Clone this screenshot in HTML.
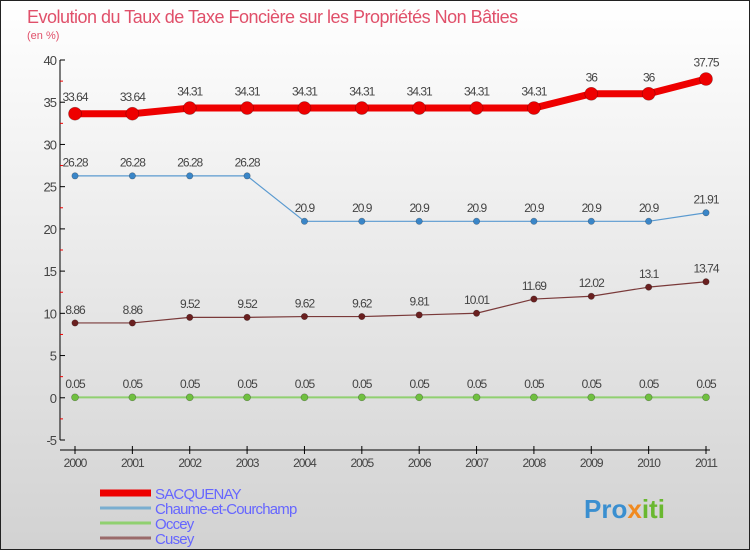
<!DOCTYPE html>
<html><head><meta charset="utf-8"><style>
html,body{margin:0;padding:0}
body{width:750px;height:550px;overflow:hidden;font-family:"Liberation Sans",sans-serif}
svg text{font-family:"Liberation Sans",sans-serif}
</style></head><body>
<svg id="chart" width="750" height="550" xmlns="http://www.w3.org/2000/svg">
<defs><linearGradient id="bg" x1="0" y1="0" x2="0" y2="1"><stop offset="0" stop-color="#ffffff"/><stop offset="1" stop-color="#d2d2d2"/></linearGradient></defs>
<rect x="0.5" y="0.5" width="749" height="549" fill="url(#bg)" stroke="#222" stroke-width="1"/>
<text x="27" y="23" font-size="18" fill="#e0506a" letter-spacing="-0.5">Evolution du Taux de Taxe Foncière sur les Propriétés Non Bâties</text>
<text x="27" y="39" font-size="11" fill="#e0506a">(en %)</text>
<g id="axes"></g><g id="series"></g><g id="legend"></g>
<text x="584" y="518" font-size="26" font-weight="bold" fill="#3a8fd0">Pro<tspan fill="#f08a20">x</tspan><tspan fill="#6ab830">iti</tspan></text>
</svg>
<script>
const years = [2000,2001,2002,2003,2004,2005,2006,2007,2008,2009,2010,2011];
const yTicks = [-5,0,5,10,15,20,25,30,35,40];
const sacquenay = [33.64,33.64,34.31,34.31,34.31,34.31,34.31,34.31,34.31,36,36,37.75];
const chaume = [26.28,26.28,26.28,26.28,20.9,20.9,20.9,20.9,20.9,20.9,20.9,21.91];
const occey = [0.05,0.05,0.05,0.05,0.05,0.05,0.05,0.05,0.05,0.05,0.05,0.05];
const cusey = [8.86,8.86,9.52,9.52,9.62,9.62,9.81,10.01,11.69,12.02,13.1,13.74];
const seriesNames = ["SACQUENAY","Chaume-et-Courchamp","Occey","Cusey"];

const NS="http://www.w3.org/2000/svg";
function X(i){return 75+i*(706-75)/(years.length-1);}
function Y(v){return 60+(40-v)*380/45;}
function mk(tag,attrs,parent,text){const e=document.createElementNS(NS,tag);for(const k in attrs)e.setAttribute(k,attrs[k]);if(text!==undefined)e.textContent=text;parent.appendChild(e);return e;}
const axes=document.getElementById('axes');
let e=mk('line',{x1:60,y1:60,x2:60,y2:440,stroke:'#000','stroke-width':1},axes);


e=mk('line',{x1:60,y1:450,x2:710,y2:450,stroke:'#000','stroke-width':1},axes);


yTicks.forEach(v=>{
  mk('line',{x1:60,y1:Y(v),x2:65,y2:Y(v),stroke:'#000'},axes);
  if(v<40) mk('line',{x1:60,y1:Y(v+2.5),x2:63,y2:Y(v+2.5),stroke:'#e00'},axes);
  const t=mk('text',{x:56,y:Y(v)+5,'text-anchor':'end','font-size':13,fill:'#444','letter-spacing':'-1'},axes,String(v));
  
  
});
years.forEach((y,i)=>{
  mk('line',{x1:X(i),y1:446,x2:X(i),y2:454,stroke:'#000'},axes);
  const t=mk('text',{x:X(i),y:467,'text-anchor':'middle','font-size':12,fill:'#444','letter-spacing':'-1'},axes,String(y));
  
  
});
const sg=document.getElementById('series');
function fmt(v){return String(v).replace('.','.');}
function drawSeries(vals,name,color,lw,r,dot){
  const g=mk('g',{},sg);
  
  
  const p=mk('polyline',{points:vals.map((v,i)=>X(i)+','+Y(v)).join(' '),fill:'none',stroke:color,'stroke-width':lw,'stroke-linejoin':'round'},g);
  
  
  vals.forEach((v,i)=>{
    const c=mk('circle',{cx:X(i),cy:Y(v),r:r,fill:dot,stroke:'#0005','stroke-width':0.6},g);
    
    
    const t=mk('text',{x:X(i),y:Y(v)-(r+6),'text-anchor':'middle','font-size':12,fill:'#444','letter-spacing':'-1'},g,fmt(v));
    
    
  });
}
drawSeries(occey,'occey','#90d070',2,3.5,'#70c040');
drawSeries(cusey,'cusey','#7a3a3a',1.2,3.2,'#6a2020');
drawSeries(chaume,'chaume-et-courchamp','#5a9ad0',1.2,3.2,'#3a86c8');
drawSeries(sacquenay,'sacquenay','#ee0000',7,6.5,'#ee0000');
const lg=document.getElementById('legend');
const lcol=['#ee0000','#7aaed0','#90d070','#9a6a6a'];
const lw=[7,3,3,3];
seriesNames.forEach((n,i)=>{
  const y=493+i*15;
  const l=mk('line',{x1:100,y1:y,x2:151,y2:y,stroke:lcol[i],'stroke-width':lw[i]},lg);
  
  
  const t=mk('text',{x:155,y:y+6,'font-size':15,fill:'#6666ff','letter-spacing':'-0.8'},lg,n);
  
  
});
</script>
</body></html>
